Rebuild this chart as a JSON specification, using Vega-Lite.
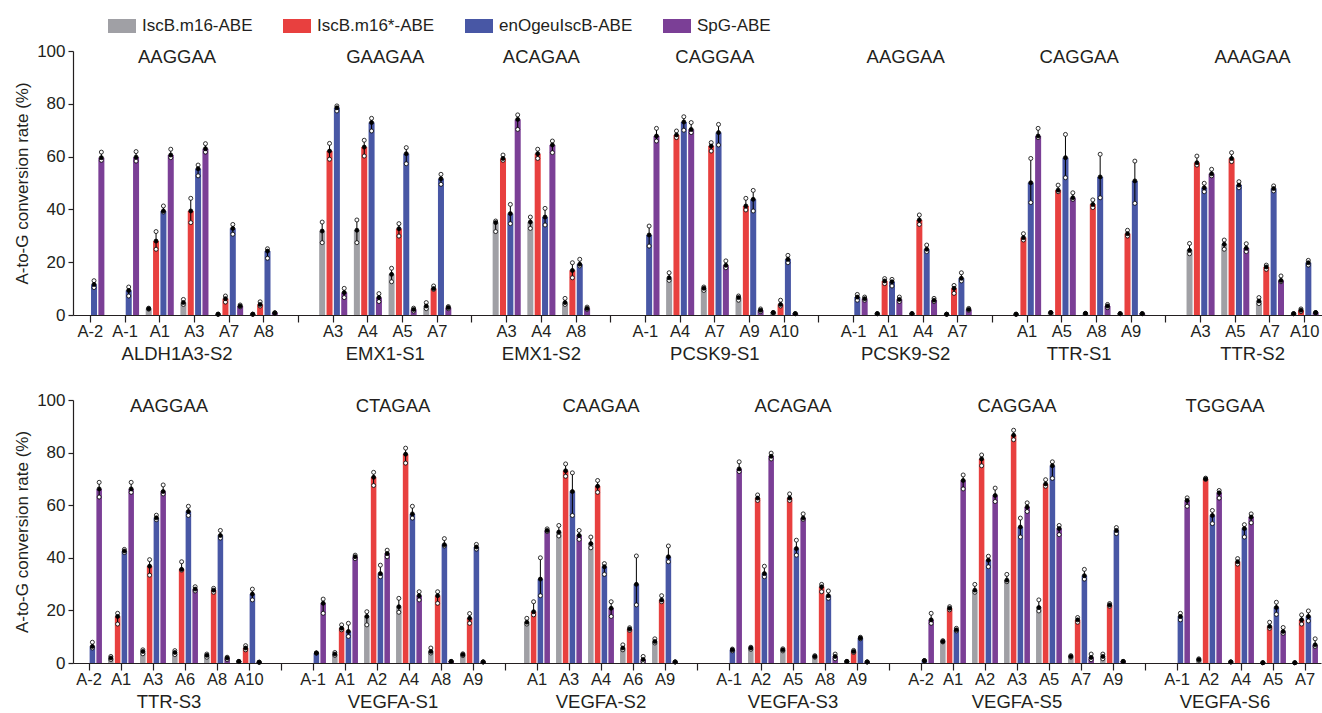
{
"$schema": "https://vega.github.io/schema/vega-lite/v6.json",
"padding": {"left": 13, "top": 12, "right": 0, "bottom": 0},
"bounds": "flush",
"spacing": 85,
"config": {
 "font": "Liberation Sans",
 "view": {"stroke": null},
 "axis": {"domainColor": "#231F20", "tickColor": "#231F20", "labelColor": "#231F20", "titleColor": "#231F20", "labelFont": "Liberation Sans", "titleFont": "Liberation Sans", "grid": false, "titleFontWeight": "normal"},
 "axisY": {"values": [0,20,40,60,80,100], "tickSize": 5, "labelPadding": 3, "labelFontSize": 17, "titleFontSize": 17, "titlePadding": 5, "domainWidth": 1.2, "tickWidth": 1.2},
 "axisX": {"labelExpr": "indexof(datum.value,'|') > 0 ? split(datum.value,'|')[1] : ''", "tickSize": 7, "labelPadding": 1, "labelFontSize": 16.5, "labelAngle": 0, "domainWidth": 1.2, "tickWidth": 1.2, "labelOverlap": false}
},
"resolve": {"scale": {"x": "independent", "xOffset": "independent", "y": "independent", "color": "shared", "fill": "shared"}},
"datasets": {
 "top": [
  {"k":"ALDH1A3-S2|A-2","e":"enO","v":11.6,"l":10.4,"h":13},
  {"k":"ALDH1A3-S2|A-2","e":"SpG","v":59.6,"l":58.6,"h":61.7},
  {"k":"ALDH1A3-S2|A-1","e":"enO","v":9.3,"l":7.2,"h":10.6},
  {"k":"ALDH1A3-S2|A-1","e":"SpG","v":59.8,"l":58.3,"h":61.9},
  {"k":"ALDH1A3-S2|A1","e":"m16","v":2.4,"l":2.2,"h":2.6},
  {"k":"ALDH1A3-S2|A1","e":"m16s","v":28,"l":24.9,"h":31.6},
  {"k":"ALDH1A3-S2|A1","e":"enO","v":39.4,"l":39,"h":41.3},
  {"k":"ALDH1A3-S2|A1","e":"SpG","v":60.6,"l":59.6,"h":62.8},
  {"k":"ALDH1A3-S2|A3","e":"m16","v":4.7,"l":4,"h":5.9},
  {"k":"ALDH1A3-S2|A3","e":"m16s","v":39.4,"l":35,"h":44.2},
  {"k":"ALDH1A3-S2|A3","e":"enO","v":55.4,"l":52.7,"h":56.8},
  {"k":"ALDH1A3-S2|A3","e":"SpG","v":63,"l":61.7,"h":64.9},
  {"k":"ALDH1A3-S2|A7","e":"m16","v":0.3,"l":0.3,"h":0.3},
  {"k":"ALDH1A3-S2|A7","e":"m16s","v":6.2,"l":4.9,"h":7.2},
  {"k":"ALDH1A3-S2|A7","e":"enO","v":32.8,"l":30.6,"h":34.3},
  {"k":"ALDH1A3-S2|A7","e":"SpG","v":3.4,"l":3.1,"h":3.8},
  {"k":"ALDH1A3-S2|A8","e":"m16","v":0.3,"l":0.3,"h":0.3},
  {"k":"ALDH1A3-S2|A8","e":"m16s","v":4,"l":3.4,"h":5},
  {"k":"ALDH1A3-S2|A8","e":"enO","v":24.2,"l":21.5,"h":25.1},
  {"k":"ALDH1A3-S2|A8","e":"SpG","v":0.8,"l":0.8,"h":0.8},
  {"k":"EMX1-S1|A3","e":"m16","v":31.8,"l":27.4,"h":35.2},
  {"k":"EMX1-S1|A3","e":"m16s","v":62.1,"l":59,"h":65},
  {"k":"EMX1-S1|A3","e":"enO","v":78.5,"l":77.3,"h":79.2},
  {"k":"EMX1-S1|A3","e":"SpG","v":8.5,"l":6.6,"h":10.1},
  {"k":"EMX1-S1|A4","e":"m16","v":32.1,"l":27.4,"h":36},
  {"k":"EMX1-S1|A4","e":"m16s","v":63.6,"l":60.2,"h":66.2},
  {"k":"EMX1-S1|A4","e":"enO","v":72.9,"l":69.7,"h":74.5},
  {"k":"EMX1-S1|A4","e":"SpG","v":6.6,"l":5.1,"h":8.1},
  {"k":"EMX1-S1|A5","e":"m16","v":15.4,"l":12.6,"h":17.7},
  {"k":"EMX1-S1|A5","e":"m16s","v":32.7,"l":29.9,"h":34.6},
  {"k":"EMX1-S1|A5","e":"enO","v":61.1,"l":57.3,"h":63.4},
  {"k":"EMX1-S1|A5","e":"SpG","v":2.1,"l":1.5,"h":2.6},
  {"k":"EMX1-S1|A7","e":"m16","v":3.4,"l":2.4,"h":4.7},
  {"k":"EMX1-S1|A7","e":"m16s","v":10,"l":9.7,"h":11},
  {"k":"EMX1-S1|A7","e":"enO","v":51.6,"l":49.5,"h":53.3},
  {"k":"EMX1-S1|A7","e":"SpG","v":2.8,"l":2.4,"h":3.2},
  {"k":"EMX1-S2|A3","e":"m16","v":35,"l":31.6,"h":35.6},
  {"k":"EMX1-S2|A3","e":"m16s","v":59.3,"l":58.6,"h":60.6},
  {"k":"EMX1-S2|A3","e":"enO","v":38.4,"l":34.6,"h":41.9},
  {"k":"EMX1-S2|A3","e":"SpG","v":74.1,"l":70.3,"h":75.8},
  {"k":"EMX1-S2|A4","e":"m16","v":35.2,"l":32.8,"h":37.1},
  {"k":"EMX1-S2|A4","e":"m16s","v":61.1,"l":59.3,"h":62.8},
  {"k":"EMX1-S2|A4","e":"enO","v":37.1,"l":34.1,"h":40.4},
  {"k":"EMX1-S2|A4","e":"SpG","v":64.4,"l":61.5,"h":65.9},
  {"k":"EMX1-S2|A8","e":"m16","v":4.7,"l":4,"h":6.3},
  {"k":"EMX1-S2|A8","e":"m16s","v":16.9,"l":14.1,"h":19.8},
  {"k":"EMX1-S2|A8","e":"enO","v":19.2,"l":18.6,"h":21.1},
  {"k":"EMX1-S2|A8","e":"SpG","v":2.5,"l":2.1,"h":3},
  {"k":"PCSK9-S1|A-1","e":"enO","v":30.3,"l":26.1,"h":33.7},
  {"k":"PCSK9-S1|A-1","e":"SpG","v":67.8,"l":65.9,"h":70.7},
  {"k":"PCSK9-S1|A4","e":"m16","v":14.1,"l":13.1,"h":16},
  {"k":"PCSK9-S1|A4","e":"m16s","v":68.2,"l":67.2,"h":69.7},
  {"k":"PCSK9-S1|A4","e":"enO","v":73.1,"l":70,"h":75.1},
  {"k":"PCSK9-S1|A4","e":"SpG","v":70.3,"l":69.1,"h":72.9},
  {"k":"PCSK9-S1|A7","e":"m16","v":10.1,"l":9.3,"h":10.6},
  {"k":"PCSK9-S1|A7","e":"m16s","v":64,"l":62.1,"h":65.3},
  {"k":"PCSK9-S1|A7","e":"enO","v":69.1,"l":64.4,"h":72.2},
  {"k":"PCSK9-S1|A7","e":"SpG","v":18.8,"l":17.9,"h":20.5},
  {"k":"PCSK9-S1|A9","e":"m16","v":6.6,"l":5.6,"h":7.2},
  {"k":"PCSK9-S1|A9","e":"m16s","v":41.3,"l":39.8,"h":44.2},
  {"k":"PCSK9-S1|A9","e":"enO","v":43.8,"l":39.4,"h":47.2},
  {"k":"PCSK9-S1|A9","e":"SpG","v":1.8,"l":1.3,"h":2.3},
  {"k":"PCSK9-S1|A10","e":"m16","v":0.9,"l":0.9,"h":0.9},
  {"k":"PCSK9-S1|A10","e":"m16s","v":4,"l":3.4,"h":5.6},
  {"k":"PCSK9-S1|A10","e":"enO","v":21.1,"l":19.8,"h":22.6},
  {"k":"PCSK9-S1|A10","e":"SpG","v":0.5,"l":0.5,"h":0.5},
  {"k":"PCSK9-S2|A-1","e":"enO","v":6.8,"l":5.6,"h":7.8},
  {"k":"PCSK9-S2|A-1","e":"SpG","v":6.2,"l":5.6,"h":6.8},
  {"k":"PCSK9-S2|A1","e":"m16","v":0.5,"l":0.5,"h":0.5},
  {"k":"PCSK9-S2|A1","e":"m16s","v":12.9,"l":11.9,"h":13.8},
  {"k":"PCSK9-S2|A1","e":"enO","v":12.6,"l":11,"h":13.5},
  {"k":"PCSK9-S2|A1","e":"SpG","v":5.9,"l":5.1,"h":6.8},
  {"k":"PCSK9-S2|A4","e":"m16","v":0.5,"l":0.5,"h":0.5},
  {"k":"PCSK9-S2|A4","e":"m16s","v":36,"l":34.3,"h":37.9},
  {"k":"PCSK9-S2|A4","e":"enO","v":24.9,"l":24,"h":26.5},
  {"k":"PCSK9-S2|A4","e":"SpG","v":5.6,"l":5.1,"h":6.3},
  {"k":"PCSK9-S2|A7","e":"m16","v":0.3,"l":0.3,"h":0.3},
  {"k":"PCSK9-S2|A7","e":"m16s","v":10.1,"l":8.2,"h":11.2},
  {"k":"PCSK9-S2|A7","e":"enO","v":13.9,"l":12.9,"h":16},
  {"k":"PCSK9-S2|A7","e":"SpG","v":2.1,"l":1.8,"h":2.5},
  {"k":"TTR-S1|A1","e":"m16","v":0.3,"l":0.3,"h":0.3},
  {"k":"TTR-S1|A1","e":"m16s","v":29.3,"l":28.4,"h":30.8},
  {"k":"TTR-S1|A1","e":"enO","v":50.1,"l":42.6,"h":59.3},
  {"k":"TTR-S1|A1","e":"SpG","v":67.8,"l":67.2,"h":70.7},
  {"k":"TTR-S1|A5","e":"m16","v":0.9,"l":0.9,"h":0.9},
  {"k":"TTR-S1|A5","e":"m16s","v":47.3,"l":46.7,"h":49.2},
  {"k":"TTR-S1|A5","e":"enO","v":59.6,"l":52,"h":68.4},
  {"k":"TTR-S1|A5","e":"SpG","v":44.4,"l":43.8,"h":46.3},
  {"k":"TTR-S1|A8","e":"m16","v":0.6,"l":0.6,"h":0.6},
  {"k":"TTR-S1|A8","e":"m16s","v":41.9,"l":40.7,"h":43.6},
  {"k":"TTR-S1|A8","e":"enO","v":52.3,"l":44.4,"h":60.9},
  {"k":"TTR-S1|A8","e":"SpG","v":3.4,"l":2.8,"h":4},
  {"k":"TTR-S1|A9","e":"m16","v":0.5,"l":0.5,"h":0.5},
  {"k":"TTR-S1|A9","e":"m16s","v":30.8,"l":29.9,"h":32.1},
  {"k":"TTR-S1|A9","e":"enO","v":50.8,"l":42.3,"h":58.3},
  {"k":"TTR-S1|A9","e":"SpG","v":0.5,"l":0.5,"h":0.5},
  {"k":"TTR-S2|A3","e":"m16","v":24.5,"l":23.2,"h":27.1},
  {"k":"TTR-S2|A3","e":"m16s","v":57.7,"l":56.8,"h":60.2},
  {"k":"TTR-S2|A3","e":"enO","v":48.2,"l":46.7,"h":49.9},
  {"k":"TTR-S2|A3","e":"SpG","v":53.5,"l":52.7,"h":55.2},
  {"k":"TTR-S2|A5","e":"m16","v":26.8,"l":24.9,"h":28.4},
  {"k":"TTR-S2|A5","e":"m16s","v":59.3,"l":58.1,"h":61.5},
  {"k":"TTR-S2|A5","e":"enO","v":49.2,"l":48.2,"h":50.5},
  {"k":"TTR-S2|A5","e":"SpG","v":25.3,"l":24,"h":27},
  {"k":"TTR-S2|A7","e":"m16","v":5.3,"l":4.3,"h":6.6},
  {"k":"TTR-S2|A7","e":"m16s","v":18.2,"l":17.3,"h":18.9},
  {"k":"TTR-S2|A7","e":"enO","v":47.9,"l":47,"h":48.9},
  {"k":"TTR-S2|A7","e":"SpG","v":13.1,"l":12.6,"h":14.8},
  {"k":"TTR-S2|A10","e":"m16","v":0.5,"l":0.5,"h":0.5},
  {"k":"TTR-S2|A10","e":"m16s","v":1.8,"l":1.3,"h":2.3},
  {"k":"TTR-S2|A10","e":"enO","v":19.8,"l":18.9,"h":20.7},
  {"k":"TTR-S2|A10","e":"SpG","v":0.9,"l":0.9,"h":0.9}
 ],
 "bot": [
  {"k":"TTR-S3|A-2","e":"enO","v":6.3,"l":5.7,"h":7.9},
  {"k":"TTR-S3|A-2","e":"SpG","v":66.2,"l":63.1,"h":68.7},
  {"k":"TTR-S3|A1","e":"m16","v":1.9,"l":1.3,"h":2.5},
  {"k":"TTR-S3|A1","e":"m16s","v":17.7,"l":14.8,"h":18.9},
  {"k":"TTR-S3|A1","e":"enO","v":42.6,"l":42,"h":43.2},
  {"k":"TTR-S3|A1","e":"SpG","v":66.2,"l":64.9,"h":68.7},
  {"k":"TTR-S3|A3","e":"m16","v":4.4,"l":3.5,"h":5},
  {"k":"TTR-S3|A3","e":"m16s","v":36.8,"l":33.4,"h":39.3},
  {"k":"TTR-S3|A3","e":"enO","v":55.2,"l":54.5,"h":56.2},
  {"k":"TTR-S3|A3","e":"SpG","v":65.2,"l":64.3,"h":67.7},
  {"k":"TTR-S3|A6","e":"m16","v":4,"l":3.2,"h":4.7},
  {"k":"TTR-S3|A6","e":"m16s","v":35.6,"l":35.3,"h":38.5},
  {"k":"TTR-S3|A6","e":"enO","v":57.6,"l":56.1,"h":59.6},
  {"k":"TTR-S3|A6","e":"SpG","v":28.1,"l":27.4,"h":29},
  {"k":"TTR-S3|A8","e":"m16","v":2.9,"l":2.2,"h":3.4},
  {"k":"TTR-S3|A8","e":"m16s","v":27.7,"l":26.9,"h":28.4},
  {"k":"TTR-S3|A8","e":"enO","v":48.5,"l":47.5,"h":50.4},
  {"k":"TTR-S3|A8","e":"SpG","v":1.9,"l":1.3,"h":2.2},
  {"k":"TTR-S3|A10","e":"m16","v":0.6,"l":0.6,"h":0.6},
  {"k":"TTR-S3|A10","e":"m16s","v":5.7,"l":5,"h":6.6},
  {"k":"TTR-S3|A10","e":"enO","v":26.2,"l":24,"h":28.1},
  {"k":"TTR-S3|A10","e":"SpG","v":0.3,"l":0.3,"h":0.3},
  {"k":"VEGFA-S1|A-1","e":"enO","v":3.8,"l":3.8,"h":3.8},
  {"k":"VEGFA-S1|A-1","e":"SpG","v":22.7,"l":18.9,"h":24.3},
  {"k":"VEGFA-S1|A1","e":"m16","v":3.4,"l":2.9,"h":4},
  {"k":"VEGFA-S1|A1","e":"m16s","v":13.2,"l":12.6,"h":14.5},
  {"k":"VEGFA-S1|A1","e":"enO","v":12,"l":10.1,"h":15.1},
  {"k":"VEGFA-S1|A1","e":"SpG","v":40.4,"l":39.7,"h":41},
  {"k":"VEGFA-S1|A2","e":"m16","v":17.7,"l":14.5,"h":19.5},
  {"k":"VEGFA-S1|A2","e":"m16s","v":70.6,"l":67.5,"h":72.5},
  {"k":"VEGFA-S1|A2","e":"enO","v":34,"l":32.8,"h":37.2},
  {"k":"VEGFA-S1|A2","e":"SpG","v":41.6,"l":40.4,"h":42.9},
  {"k":"VEGFA-S1|A4","e":"m16","v":21.4,"l":19.3,"h":24.6},
  {"k":"VEGFA-S1|A4","e":"m16s","v":79.4,"l":76,"h":81.7},
  {"k":"VEGFA-S1|A4","e":"enO","v":56.7,"l":55.1,"h":59.6},
  {"k":"VEGFA-S1|A4","e":"SpG","v":25.6,"l":24,"h":27.1},
  {"k":"VEGFA-S1|A8","e":"m16","v":4.4,"l":3.8,"h":5.7},
  {"k":"VEGFA-S1|A8","e":"m16s","v":25.6,"l":22.7,"h":27.1},
  {"k":"VEGFA-S1|A8","e":"enO","v":45,"l":44.5,"h":47.3},
  {"k":"VEGFA-S1|A8","e":"SpG","v":0.6,"l":0.6,"h":0.6},
  {"k":"VEGFA-S1|A9","e":"m16","v":3.2,"l":2.8,"h":3.5},
  {"k":"VEGFA-S1|A9","e":"m16s","v":17,"l":15.1,"h":18.8},
  {"k":"VEGFA-S1|A9","e":"enO","v":44.1,"l":43.3,"h":45.1},
  {"k":"VEGFA-S1|A9","e":"SpG","v":0.4,"l":0.4,"h":0.4},
  {"k":"VEGFA-S2|A1","e":"m16","v":15.5,"l":14.8,"h":17},
  {"k":"VEGFA-S2|A1","e":"m16s","v":19.5,"l":18.3,"h":23.3},
  {"k":"VEGFA-S2|A1","e":"enO","v":31.9,"l":25.6,"h":40},
  {"k":"VEGFA-S2|A1","e":"SpG","v":50.4,"l":50,"h":51},
  {"k":"VEGFA-S2|A3","e":"m16","v":49.8,"l":48.3,"h":52.3},
  {"k":"VEGFA-S2|A3","e":"m16s","v":73.1,"l":71,"h":75.7},
  {"k":"VEGFA-S2|A3","e":"enO","v":65.2,"l":56.1,"h":72.3},
  {"k":"VEGFA-S2|A3","e":"SpG","v":48.5,"l":47,"h":50.4},
  {"k":"VEGFA-S2|A4","e":"m16","v":45.4,"l":43.8,"h":47.9},
  {"k":"VEGFA-S2|A4","e":"m16s","v":67.2,"l":64.9,"h":69.4},
  {"k":"VEGFA-S2|A4","e":"enO","v":36.6,"l":33.7,"h":37.8},
  {"k":"VEGFA-S2|A4","e":"SpG","v":20.8,"l":17.7,"h":23.3},
  {"k":"VEGFA-S2|A6","e":"m16","v":5.7,"l":5,"h":6.9},
  {"k":"VEGFA-S2|A6","e":"m16s","v":12.9,"l":12.4,"h":13.4},
  {"k":"VEGFA-S2|A6","e":"enO","v":29.9,"l":22.1,"h":40.7},
  {"k":"VEGFA-S2|A6","e":"SpG","v":1.3,"l":0.6,"h":2.5},
  {"k":"VEGFA-S2|A9","e":"m16","v":8.2,"l":7.6,"h":9.2},
  {"k":"VEGFA-S2|A9","e":"m16s","v":24,"l":23.3,"h":25.6},
  {"k":"VEGFA-S2|A9","e":"enO","v":40.4,"l":38.5,"h":44.5},
  {"k":"VEGFA-S2|A9","e":"SpG","v":0.4,"l":0.4,"h":0.4},
  {"k":"VEGFA-S3|A-1","e":"enO","v":5,"l":4.6,"h":5.3},
  {"k":"VEGFA-S3|A-1","e":"SpG","v":73.8,"l":72.8,"h":76.5},
  {"k":"VEGFA-S3|A2","e":"m16","v":5.7,"l":5.2,"h":6},
  {"k":"VEGFA-S3|A2","e":"m16s","v":62.7,"l":61.8,"h":63.9},
  {"k":"VEGFA-S3|A2","e":"enO","v":34,"l":32.8,"h":36.8},
  {"k":"VEGFA-S3|A2","e":"SpG","v":78.6,"l":77.6,"h":79.8},
  {"k":"VEGFA-S3|A5","e":"m16","v":5,"l":4.6,"h":5.4},
  {"k":"VEGFA-S3|A5","e":"m16s","v":62.7,"l":61.8,"h":64.3},
  {"k":"VEGFA-S3|A5","e":"enO","v":43.5,"l":41,"h":46.7},
  {"k":"VEGFA-S3|A5","e":"SpG","v":55.1,"l":54.6,"h":56.7},
  {"k":"VEGFA-S3|A8","e":"m16","v":2.5,"l":2.2,"h":2.8},
  {"k":"VEGFA-S3|A8","e":"m16s","v":29,"l":27.1,"h":29.9},
  {"k":"VEGFA-S3|A8","e":"enO","v":25.6,"l":24.6,"h":27.4},
  {"k":"VEGFA-S3|A8","e":"SpG","v":2.5,"l":1.6,"h":3.4},
  {"k":"VEGFA-S3|A9","e":"m16","v":0.6,"l":0.6,"h":0.6},
  {"k":"VEGFA-S3|A9","e":"m16s","v":4.4,"l":4,"h":4.8},
  {"k":"VEGFA-S3|A9","e":"enO","v":9.5,"l":9.2,"h":9.8},
  {"k":"VEGFA-S3|A9","e":"SpG","v":0.4,"l":0.4,"h":0.4},
  {"k":"VEGFA-S5|A-2","e":"enO","v":0.9,"l":0.9,"h":0.9},
  {"k":"VEGFA-S5|A-2","e":"SpG","v":16.4,"l":15.1,"h":18.9},
  {"k":"VEGFA-S5|A1","e":"m16","v":8.2,"l":8,"h":8.5},
  {"k":"VEGFA-S5|A1","e":"m16s","v":20.8,"l":20.2,"h":21.4},
  {"k":"VEGFA-S5|A1","e":"enO","v":12.6,"l":12.2,"h":13.2},
  {"k":"VEGFA-S5|A1","e":"SpG","v":69.4,"l":66.2,"h":71.5},
  {"k":"VEGFA-S5|A2","e":"m16","v":27.7,"l":26.9,"h":29.9},
  {"k":"VEGFA-S5|A2","e":"m16s","v":77.6,"l":75,"h":79.1},
  {"k":"VEGFA-S5|A2","e":"enO","v":39.1,"l":36.6,"h":40.6},
  {"k":"VEGFA-S5|A2","e":"SpG","v":63.7,"l":61.4,"h":66.5},
  {"k":"VEGFA-S5|A3","e":"m16","v":31.5,"l":30.9,"h":33.7},
  {"k":"VEGFA-S5|A3","e":"m16s","v":86.6,"l":84.9,"h":88.5},
  {"k":"VEGFA-S5|A3","e":"enO","v":51.7,"l":47.9,"h":55.1},
  {"k":"VEGFA-S5|A3","e":"SpG","v":59.3,"l":57.6,"h":60.9},
  {"k":"VEGFA-S5|A5","e":"m16","v":21.1,"l":19.8,"h":24},
  {"k":"VEGFA-S5|A5","e":"m16s","v":68.1,"l":67.2,"h":69.7},
  {"k":"VEGFA-S5|A5","e":"enO","v":75,"l":70.2,"h":76.5},
  {"k":"VEGFA-S5|A5","e":"SpG","v":51.1,"l":48.8,"h":52.3},
  {"k":"VEGFA-S5|A7","e":"m16","v":2.5,"l":2.2,"h":2.8},
  {"k":"VEGFA-S5|A7","e":"m16s","v":16.4,"l":15.5,"h":17.3},
  {"k":"VEGFA-S5|A7","e":"enO","v":33.2,"l":31.9,"h":35.6},
  {"k":"VEGFA-S5|A7","e":"SpG","v":2.1,"l":1.3,"h":3.4},
  {"k":"VEGFA-S5|A9","e":"m16","v":2.5,"l":1.6,"h":3.4},
  {"k":"VEGFA-S5|A9","e":"m16s","v":22.1,"l":21.6,"h":22.6},
  {"k":"VEGFA-S5|A9","e":"enO","v":50.4,"l":49.2,"h":51.5},
  {"k":"VEGFA-S5|A9","e":"SpG","v":0.6,"l":0.6,"h":0.6},
  {"k":"VEGFA-S6|A-1","e":"enO","v":17.7,"l":16.4,"h":18.9},
  {"k":"VEGFA-S6|A-1","e":"SpG","v":61.8,"l":59.6,"h":62.8},
  {"k":"VEGFA-S6|A2","e":"m16","v":1.3,"l":1,"h":1.6},
  {"k":"VEGFA-S6|A2","e":"m16s","v":70,"l":69.8,"h":70.3},
  {"k":"VEGFA-S6|A2","e":"enO","v":56.1,"l":53,"h":58},
  {"k":"VEGFA-S6|A2","e":"SpG","v":64.7,"l":62.7,"h":65.6},
  {"k":"VEGFA-S6|A4","e":"m16","v":0.4,"l":0.4,"h":0.4},
  {"k":"VEGFA-S6|A4","e":"m16s","v":38.5,"l":37.6,"h":39.7},
  {"k":"VEGFA-S6|A4","e":"enO","v":51.1,"l":47.9,"h":52.6},
  {"k":"VEGFA-S6|A4","e":"SpG","v":55.5,"l":53.3,"h":56.7},
  {"k":"VEGFA-S6|A5","e":"m16","v":0.1,"l":0.1,"h":0.1},
  {"k":"VEGFA-S6|A5","e":"m16s","v":13.9,"l":13.2,"h":15.5},
  {"k":"VEGFA-S6|A5","e":"enO","v":21.1,"l":18.5,"h":23.1},
  {"k":"VEGFA-S6|A5","e":"SpG","v":12,"l":11.3,"h":13.5},
  {"k":"VEGFA-S6|A7","e":"m16","v":0.1,"l":0.1,"h":0.1},
  {"k":"VEGFA-S6|A7","e":"m16s","v":16.4,"l":14.8,"h":18.3},
  {"k":"VEGFA-S6|A7","e":"enO","v":17.7,"l":16,"h":19.8},
  {"k":"VEGFA-S6|A7","e":"SpG","v":6.9,"l":6.3,"h":9.2}
 ],
 "topLab": [
  {"s":"ALDH1A3-S2","p":"AAGGAA","k":"ALDH1A3-S2|A3","o":0},
  {"s":"EMX1-S1","p":"GAAGAA","k":"EMX1-S1|A5","o":0},
  {"s":"EMX1-S2","p":"ACAGAA","k":"EMX1-S2|A4","o":1},
  {"s":"PCSK9-S1","p":"CAGGAA","k":"PCSK9-S1|A7","o":1},
  {"s":"PCSK9-S2","p":"AAGGAA","k":"PCSK9-S2|A4","o":0},
  {"s":"TTR-S1","p":"CAGGAA","k":"TTR-S1|A8","o":0},
  {"s":"TTR-S2","p":"AAAGAA","k":"TTR-S2|A7","o":0}
 ],
 "botLab": [
  {"s":"TTR-S3","p":"AAGGAA","k":"TTR-S3|A6","o":0},
  {"s":"VEGFA-S1","p":"CTAGAA","k":"VEGFA-S1|A4","o":0},
  {"s":"VEGFA-S2","p":"CAAGAA","k":"VEGFA-S2|A4","o":1},
  {"s":"VEGFA-S3","p":"ACAGAA","k":"VEGFA-S3|A5","o":1},
  {"s":"VEGFA-S5","p":"CAGGAA","k":"VEGFA-S5|A3","o":1},
  {"s":"VEGFA-S6","p":"TGGGAA","k":"VEGFA-S6|A4","o":0}
 ]
},
"vconcat": [
 {
  "width": 1249, "height": 264,
  "layer": [
   {
    "data": {"name": "top"},
    "mark": {"type": "bar"},
    "encoding": {
     "x": {"field": "k", "type": "nominal", "title": null,
      "scale": {"domain": ["ALDH1A3-S2|A-2","ALDH1A3-S2|A-1","ALDH1A3-S2|A1","ALDH1A3-S2|A3","ALDH1A3-S2|A7","ALDH1A3-S2|A8","g1","EMX1-S1|A3","EMX1-S1|A4","EMX1-S1|A5","EMX1-S1|A7","g2","EMX1-S2|A3","EMX1-S2|A4","EMX1-S2|A8","g3","PCSK9-S1|A-1","PCSK9-S1|A4","PCSK9-S1|A7","PCSK9-S1|A9","PCSK9-S1|A10","g4","PCSK9-S2|A-1","PCSK9-S2|A1","PCSK9-S2|A4","PCSK9-S2|A7","g5","TTR-S1|A1","TTR-S1|A5","TTR-S1|A8","TTR-S1|A9","g6","TTR-S2|A3","TTR-S2|A5","TTR-S2|A7","TTR-S2|A10"], "paddingInner": 0, "paddingOuter": 0}},
     "xOffset": {"field": "e", "type": "nominal", "scale": {"domain": ["m16","m16s","enO","SpG"], "paddingInner": 0.18, "paddingOuter": 0.45}},
     "y": {"field": "v", "type": "quantitative", "title": "A-to-G conversion rate (%)", "scale": {"domain": [0, 100], "nice": false}},
     "color": {"field": "e", "type": "nominal", "scale": {"domain": ["m16","m16s","enO","SpG"], "range": ["#A0A0A5","#E8403F","#4857A5","#7B3F96"]},
      "legend": {"orient": "none", "legendX": 35, "legendY": -39, "direction": "horizontal", "title": null, "symbolType": "M-1,-0.5H1V0.5H-1Z", "symbolSize": 784, "symbolStrokeWidth": 0, "labelFontSize": 17, "labelFont": "Liberation Sans", "labelColor": "#231F20", "columnPadding": 30, "labelOffset": 6,
       "labelExpr": "datum.label=='m16'?'IscB.m16-ABE':datum.label=='m16s'?'IscB.m16*-ABE':datum.label=='enO'?'enOgeuIscB-ABE':'SpG-ABE'"}}
    }
   },
   {
    "data": {"name": "top"},
    "mark": {"type": "rule", "color": "#000000", "strokeWidth": 1},
    "encoding": {
     "x": {"field": "k", "type": "nominal", "title": null},
     "xOffset": {"field": "e", "type": "nominal"},
     "y": {"field": "l", "type": "quantitative", "title": "A-to-G conversion rate (%)"},
     "y2": {"field": "h"}
    }
   },
   {
    "data": {"name": "top"},
    "transform": [{"fold": ["l", "h", "v"], "as": ["q", "w"]}],
    "mark": {"type": "point", "shape": "circle", "filled": true, "size": 16, "stroke": "#000000", "strokeWidth": 0.8, "opacity": 1},
    "encoding": {
     "x": {"field": "k", "type": "nominal", "title": null},
     "xOffset": {"field": "e", "type": "nominal"},
     "y": {"field": "w", "type": "quantitative", "title": "A-to-G conversion rate (%)"},
     "fill": {"field": "q", "type": "nominal", "scale": {"domain": ["l","h","v"], "range": ["#FFFFFF","#FFFFFF","#000000"]}, "legend": null}
    }
   },
   {
    "data": {"name": "topLab"},
    "transform": [{"filter": "datum.o == 0"}],
    "mark": {"type": "text", "fontSize": 18.5, "color": "#231F20", "baseline": "middle", "align": "center"},
    "encoding": {
     "x": {"field": "k", "type": "nominal", "bandPosition": 0, "title": null},
     "y": {"datum": 97.8},
     "text": {"field": "p"}
    }
   },
   {
    "data": {"name": "topLab"},
    "transform": [{"filter": "datum.o == 1"}],
    "mark": {"type": "text", "fontSize": 18.5, "color": "#231F20", "baseline": "middle", "align": "center"},
    "encoding": {
     "x": {"field": "k", "type": "nominal", "bandPosition": 0.5, "title": null},
     "y": {"datum": 97.8},
     "text": {"field": "p"}
    }
   },
   {
    "data": {"name": "topLab"},
    "transform": [{"filter": "datum.o == 0"}],
    "mark": {"type": "text", "fontSize": 18.5, "color": "#231F20", "baseline": "middle", "align": "center"},
    "encoding": {
     "x": {"field": "k", "type": "nominal", "bandPosition": 0, "title": null},
     "y": {"datum": -14.7},
     "text": {"field": "s"}
    }
   },
   {
    "data": {"name": "topLab"},
    "transform": [{"filter": "datum.o == 1"}],
    "mark": {"type": "text", "fontSize": 18.5, "color": "#231F20", "baseline": "middle", "align": "center"},
    "encoding": {
     "x": {"field": "k", "type": "nominal", "bandPosition": 0.5, "title": null},
     "y": {"datum": -14.7},
     "text": {"field": "s"}
    }
   }
  ]
 },
 {
  "width": 1248, "height": 263,
  "layer": [
   {
    "data": {"name": "bot"},
    "mark": {"type": "bar"},
    "encoding": {
     "x": {"field": "k", "type": "nominal", "title": null,
      "scale": {"domain": ["TTR-S3|A-2","TTR-S3|A1","TTR-S3|A3","TTR-S3|A6","TTR-S3|A8","TTR-S3|A10","g1","VEGFA-S1|A-1","VEGFA-S1|A1","VEGFA-S1|A2","VEGFA-S1|A4","VEGFA-S1|A8","VEGFA-S1|A9","g2","VEGFA-S2|A1","VEGFA-S2|A3","VEGFA-S2|A4","VEGFA-S2|A6","VEGFA-S2|A9","g3","VEGFA-S3|A-1","VEGFA-S3|A2","VEGFA-S3|A5","VEGFA-S3|A8","VEGFA-S3|A9","g4","VEGFA-S5|A-2","VEGFA-S5|A1","VEGFA-S5|A2","VEGFA-S5|A3","VEGFA-S5|A5","VEGFA-S5|A7","VEGFA-S5|A9","g5","VEGFA-S6|A-1","VEGFA-S6|A2","VEGFA-S6|A4","VEGFA-S6|A5","VEGFA-S6|A7"], "paddingInner": 0, "paddingOuter": 0}},
     "xOffset": {"field": "e", "type": "nominal", "scale": {"domain": ["m16","m16s","enO","SpG"], "paddingInner": 0.18, "paddingOuter": 0.45}},
     "y": {"field": "v", "type": "quantitative", "title": "A-to-G conversion rate (%)", "scale": {"domain": [0, 100], "nice": false}},
     "color": {"field": "e", "type": "nominal"}
    }
   },
   {
    "data": {"name": "bot"},
    "mark": {"type": "rule", "color": "#000000", "strokeWidth": 1},
    "encoding": {
     "x": {"field": "k", "type": "nominal", "title": null},
     "xOffset": {"field": "e", "type": "nominal"},
     "y": {"field": "l", "type": "quantitative", "title": "A-to-G conversion rate (%)"},
     "y2": {"field": "h"}
    }
   },
   {
    "data": {"name": "bot"},
    "transform": [{"fold": ["l", "h", "v"], "as": ["q", "w"]}],
    "mark": {"type": "point", "shape": "circle", "filled": true, "size": 16, "stroke": "#000000", "strokeWidth": 0.8, "opacity": 1},
    "encoding": {
     "x": {"field": "k", "type": "nominal", "title": null},
     "xOffset": {"field": "e", "type": "nominal"},
     "y": {"field": "w", "type": "quantitative", "title": "A-to-G conversion rate (%)"},
     "fill": {"field": "q", "type": "nominal", "legend": null}
    }
   },
   {
    "data": {"name": "botLab"},
    "transform": [{"filter": "datum.o == 0"}],
    "mark": {"type": "text", "fontSize": 18.5, "color": "#231F20", "baseline": "middle", "align": "center"},
    "encoding": {
     "x": {"field": "k", "type": "nominal", "bandPosition": 0, "title": null},
     "y": {"datum": 97.8},
     "text": {"field": "p"}
    }
   },
   {
    "data": {"name": "botLab"},
    "transform": [{"filter": "datum.o == 1"}],
    "mark": {"type": "text", "fontSize": 18.5, "color": "#231F20", "baseline": "middle", "align": "center"},
    "encoding": {
     "x": {"field": "k", "type": "nominal", "bandPosition": 0.5, "title": null},
     "y": {"datum": 97.8},
     "text": {"field": "p"}
    }
   },
   {
    "data": {"name": "botLab"},
    "transform": [{"filter": "datum.o == 0"}],
    "mark": {"type": "text", "fontSize": 18.5, "color": "#231F20", "baseline": "middle", "align": "center"},
    "encoding": {
     "x": {"field": "k", "type": "nominal", "bandPosition": 0, "title": null},
     "y": {"datum": -14.7},
     "text": {"field": "s"}
    }
   },
   {
    "data": {"name": "botLab"},
    "transform": [{"filter": "datum.o == 1"}],
    "mark": {"type": "text", "fontSize": 18.5, "color": "#231F20", "baseline": "middle", "align": "center"},
    "encoding": {
     "x": {"field": "k", "type": "nominal", "bandPosition": 0.5, "title": null},
     "y": {"datum": -14.7},
     "text": {"field": "s"}
    }
   }
  ]
 }
]
}
